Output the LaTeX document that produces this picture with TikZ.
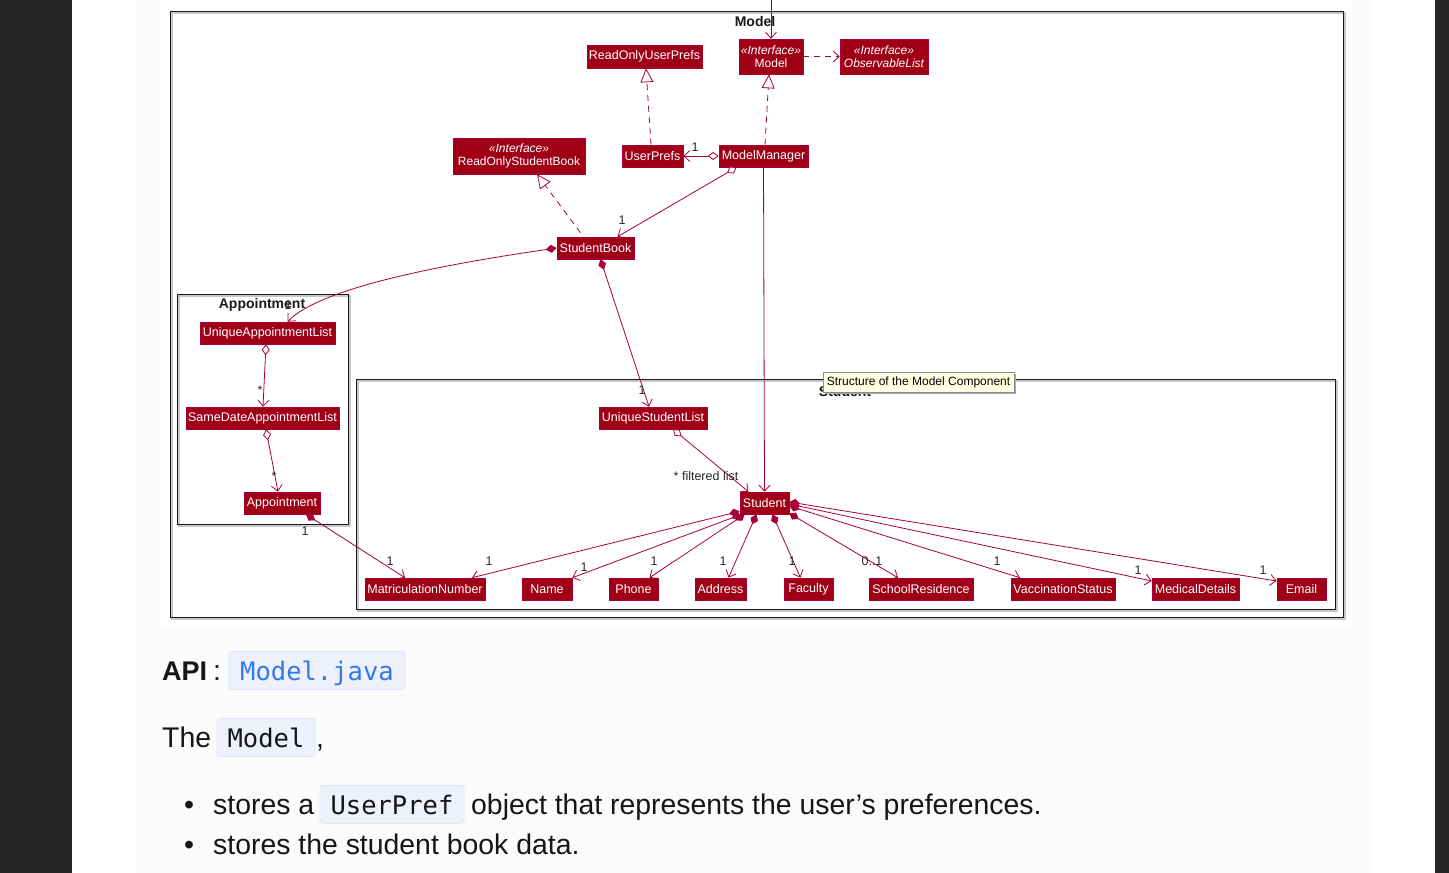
\documentclass[tikz,border=0pt]{standalone}
\usepackage{fontspec}
\setmainfont{Liberation Sans}
\setmonofont{DejaVu Sans Mono}
\usetikzlibrary{arrows.meta,shadows}
\definecolor{darkbg}{RGB}{38,38,38}
\definecolor{pagegray}{RGB}{251,251,251}
\definecolor{clsfill}{RGB}{160,0,22}
\definecolor{clsborder}{RGB}{168,0,54}
\definecolor{linered}{RGB}{168,0,54}
\definecolor{codebg}{RGB}{238,240,252}
\definecolor{codeborder}{RGB}{226,229,245}
\definecolor{codeblue}{RGB}{52,122,230}
\definecolor{tipbg}{RGB}{255,255,225}
\definecolor{textdark}{RGB}{22,22,22}
\begin{document}
\begin{tikzpicture}[x=1pt,y=-1pt,
  cls/.style={fill=clsfill, draw=clsborder, line width=0.6pt, text=white,
    font=\fontsize{12.5}{14}\selectfont, inner sep=0pt, minimum height=22pt, align=center},
  iface/.style={cls, font=\fontsize{12}{13}\selectfont},
  frame/.style={draw=black!90, line width=1pt},
  frameshadow/.style={draw=black!22, line width=1.2pt},
  ftitle/.style={font=\fontsize{14}{16}\selectfont\bfseries, text=black!90, inner sep=0pt},
  lbl/.style={font=\fontsize{12.5}{14}\selectfont, text=black!85, inner sep=0pt},
  conn/.style={draw=linered, line width=0.8pt},
  assoc/.style={conn, -{Straight Barb[length=6pt,width=11pt]}},
  dep/.style={conn, dash pattern=on 6pt off 5pt, -{Straight Barb[length=6pt,width=11pt]}},
  real/.style={conn, dash pattern=on 6pt off 5pt, -{Triangle[open,length=14pt,width=13pt,fill=white]}},
  agg/.style={conn, {Diamond[open,fill=white,length=11pt,width=8pt]}-{Straight Barb[length=6pt,width=11pt]}},
  comp/.style={conn, {Diamond[fill=linered,length=11pt,width=8pt]}-{Straight Barb[length=6pt,width=11pt]}},
  body/.style={font=\fontsize{28.4}{34}\selectfont, text=textdark, inner sep=0pt, anchor=base west},
  codebox/.style={fill=codebg, draw=codeborder, line width=0.8pt, rounded corners=3pt,
    font=\ttfamily\fontsize{25.5}{30}\selectfont, text height=22pt, text depth=3pt,
    inner ysep=6.5pt, inner xsep=0pt, anchor=base},
  tooltip/.style={fill=tipbg, draw=black!45, line width=0.6pt, inner sep=0pt,
    font=\fontsize{12}{14}\selectfont, text=black,
    drop shadow={shadow xshift=2pt, shadow yshift=-2pt, fill=black!35, opacity=1}}
]
\useasboundingbox (0,0) rectangle (1449,873);
% page background
\fill[darkbg] (0,0) rectangle (72,873);
\fill[white] (72,0) rectangle (1435,873);
\fill[darkbg] (1435,0) rectangle (1449,873);
\fill[pagegray] (136,0) rectangle (1373,873);
\fill[white] (160,0) rectangle (1352,627);

% frames
\draw[frameshadow] (172,13) rectangle (1345,619);
\draw[frame] (170,11) rectangle (1343,617);
\draw[frameshadow] (179,296) rectangle (350,526);
\draw[frame] (177,294) rectangle (348,524);
\draw[frameshadow] (358,381) rectangle (1337,611);
\draw[frame] (356,379) rectangle (1335,609);
\node[ftitle] (tmodel) at (755,21) {Model};
\node[ftitle] (tappt) at (262,305) {Appointment};
\node[ftitle] (tstudent) at (845,391) {Student};

% classes
\node[cls, minimum width=115pt, minimum height=23pt] (roup) at (644.5,56.5) {ReadOnlyUserPrefs};
\node[iface, minimum width=64pt, minimum height=35pt] (model) at (771,56.5) {{\itshape «Interface»}\\Model};
\node[iface, minimum width=88pt, minimum height=35pt] (obs) at (884,56.5) {{\itshape «Interface»}\\{\itshape ObservableList}};
\node[iface, minimum width=132pt, minimum height=36pt] (rosb) at (519,156) {{\itshape «Interface»}\\ReadOnlyStudentBook};
\node[cls, minimum width=61pt] (up) at (652.5,156) {UserPrefs};
\node[cls, minimum width=89pt] (mm) at (763.5,156) {ModelManager};
\node[cls, minimum width=77pt] (sb) at (595.5,248) {StudentBook};
\node[cls, minimum width=135pt] (ual) at (267.5,333) {UniqueAppointmentList};
\node[cls, minimum width=153pt] (sdal) at (262.5,418) {SameDateAppointmentList};
\node[cls, minimum width=76pt] (appt) at (282,503) {Appointment};
\node[cls, minimum width=108pt] (usl) at (653,418) {UniqueStudentList};
\node[cls, minimum width=49pt] (student) at (764.5,503) {Student};
\node[cls, minimum width=120pt] (matric) at (425,589) {MatriculationNumber};
\node[cls, minimum width=50pt] (name) at (547,589) {Name};
\node[cls, minimum width=49pt] (phone) at (633.5,589) {Phone};
\node[cls, minimum width=51pt] (address) at (720.5,589) {Address};
\node[cls, minimum width=49pt] (faculty) at (808.5,589) {Faculty};
\node[cls, minimum width=104pt] (sr) at (921,589) {SchoolResidence};
\node[cls, minimum width=104pt] (vacc) at (1063,589) {VaccinationStatus};
\node[cls, minimum width=87pt] (med) at (1195.5,589) {MedicalDetails};
\node[cls, minimum width=49pt] (email) at (1301.5,589) {Email};

% connectors
\coordinate (topin) at (771,0);
\draw[assoc] (topin) -- (model.north);
\draw[dep] (model.east) -- (obs.west);
\draw[real] ([xshift=-1.5pt]up.north) -- ([xshift=1.5pt]roup.south);
\draw[real] ([xshift=1.5pt]mm.north) -- ([xshift=-2pt]model.south);
\draw[real] ([xshift=-15pt,yshift=4pt]sb.north) -- ([xshift=18pt]rosb.south);
\draw[agg] (mm.west) -- (up.east);
\draw[agg] ([xshift=-27pt]mm.south) -- ([xshift=22pt]sb.north);
\draw[assoc] (mm.south) -- (student.north);
\draw[comp] (sb.west) .. controls (440,265) and (320,288) .. ([xshift=20pt]ual.north);
\draw[comp] ([xshift=5pt]sb.south) -- ([xshift=-4pt]usl.north);
\draw[agg] ([xshift=-1.5pt]ual.south) -- ([xshift=0.5pt]sdal.north);
\draw[agg] ([xshift=3.5pt]sdal.south) -- ([xshift=-4pt]appt.north);
\draw[comp] ([xshift=24pt]appt.south) -- ([xshift=-20pt]matric.north);
\draw[agg] ([xshift=20pt]usl.south) -- ([xshift=-16pt]student.north);
\draw[comp] ([yshift=3pt]student.south west) -- ([xshift=47pt]matric.north);
\draw[comp] ([xshift=2pt]student.south west) -- (name.north east);
\draw[comp] ([xshift=5pt]student.south west) -- ([xshift=16pt]phone.north);
\draw[comp] ([xshift=-8pt]student.south) -- ([xshift=8pt]address.north);
\draw[comp] ([xshift=8pt]student.south) -- ([xshift=-8pt]faculty.north);
\draw[comp] ([yshift=1pt]student.south east) -- ([xshift=-23pt]sr.north);
\draw[comp] ([yshift=-3pt]student.east) -- ([xshift=-43pt]vacc.north);
\draw[comp] ([yshift=-1pt]student.east) -- ([yshift=8pt]med.west);
\draw[comp] ([yshift=1pt]student.east) -- ([yshift=8pt]email.west);

% multiplicity labels
\node[lbl] (l1) at (695,147) {1};
\node[lbl] (l2) at (622,220) {1};
\node[lbl] (l3) at (288,305) {1};
\node[lbl] (l4) at (642,390) {1};
\node[lbl] (l5) at (260,390) {*};
\node[lbl] (l6) at (274,476) {*};
\node[lbl] (l7) at (706,476) {* filtered list};
\node[lbl] (l8) at (305,531) {1};
\node[lbl] (l9) at (390,561) {1};
\node[lbl] (l10) at (489,561) {1};
\node[lbl] (l11) at (584,567) {1};
\node[lbl] (l12) at (654,561) {1};
\node[lbl] (l13) at (723,561) {1};
\node[lbl] (l14) at (792,561) {1};
\node[lbl] (l15) at (872,561) {0..1};
\node[lbl] (l16) at (997,561) {1};
\node[lbl] (l17) at (1138,570) {1};
\node[lbl] (l18) at (1263,570) {1};

% tooltip
\node[tooltip, minimum width=191pt, minimum height=20pt] (tip) at (918.5,382) {Structure of the Model Component};

% text below
\node[body, font=\fontsize{27}{32}\selectfont\bfseries] (api) at (162,680) {API};
\node[body] (colon) at (213,680) {:};
\node[codebox, text=codeblue, minimum width=176pt] (mj) at (317,680) {Model.java};
\node[body] (the) at (162,747) {The};
\node[codebox, text=textdark, minimum width=98pt] (cm) at (266,747) {Model};
\node[body] (comma) at (316,747) {,};
\node[body] (b1) at (184,814) {•};
\node[body] (s1) at (213,814) {stores a};
\node[codebox, text=textdark, minimum width=144pt] (cu) at (392,814) {UserPref};
\node[body] (s1b) at (471,814) {object that represents the user’s preferences.};
\node[body] (b2) at (184,854) {•};
\node[body] (s2) at (213,854) {stores the student book data.};
\end{tikzpicture}
\end{document}
